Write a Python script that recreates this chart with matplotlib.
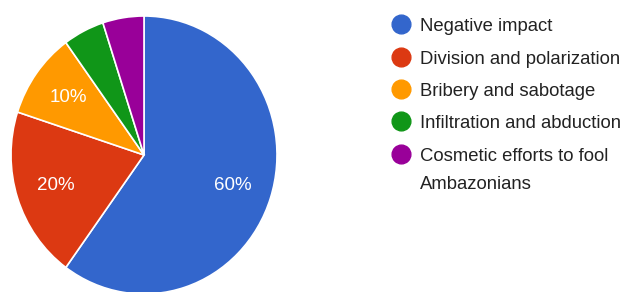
import matplotlib
matplotlib.use("Agg")
import matplotlib.pyplot as plt
from matplotlib.lines import Line2D

categories = ["Negative impact", "Division and polarization", "Bribery and sabotage",
              "Infiltration and abduction", "Cosmetic efforts to fool\nAmbazonians"]
values = [60, 20, 10, 5, 5]
colors = ["#3366CC", "#DC3912", "#FF9900", "#109618", "#990099"]

plt.rcParams['font.family'] = ['Liberation Sans', 'DejaVu Sans']

W, H = 625, 292
fig = plt.figure(figsize=(W / 100, H / 100), dpi=100)
fig.patch.set_facecolor("white")

# pie axes (slightly taller than wide as in the reference)
cx, cy, rx, ry = 144, 155, 133, 139
ax = fig.add_axes([(cx - rx) / W, 1 - (cy + ry) / H, 2 * rx / W, 2 * ry / H])


def pct(p):
    return f"{p:.0f}%" if p >= 7.5 else ""


wedges, texts, autotexts = ax.pie(
    values, colors=colors, startangle=90, counterclock=False,
    autopct=pct, pctdistance=0.7, radius=1.0,
    wedgeprops=dict(edgecolor="white", linewidth=1.2),
    textprops=dict(color="white", fontsize=13.5))
ax.set_xlim(-1, 1)
ax.set_ylim(-1, 1)
ax.set_aspect("auto")
ax.axis("off")

# legend drawn manually
lx_circle, lx_text = 401, 420
row_y = [24, 57, 89, 121, 154]
line_gap = 28
for cat, col, y in zip(categories, colors, row_y):
    fig.add_artist(Line2D([lx_circle / W], [1 - y / H], marker="o", markersize=13.5,
                          markerfacecolor=col, markeredgecolor=col, linestyle="none",
                          transform=fig.transFigure))
    for i, line in enumerate(cat.split("\n")):
        fig.text(lx_text / W, 1 - (y + 7 + i * line_gap) / H, line, fontsize=13.3,
                 color="#222222", va="baseline", ha="left")

fig.savefig("out.png", dpi=100, facecolor="white")
